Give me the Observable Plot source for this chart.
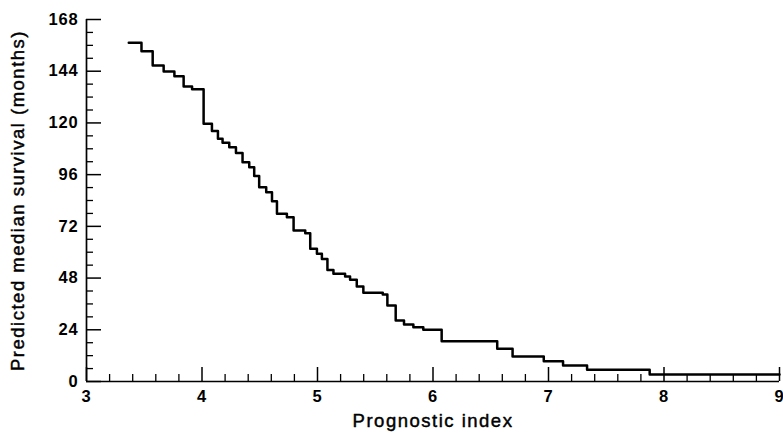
<!DOCTYPE html>
<html>
<head>
<meta charset="utf-8">
<script src="https://cdn.jsdelivr.net/npm/d3@7"></script>
<script src="https://cdn.jsdelivr.net/npm/@observablehq/plot@0.6"></script>
<style>
  html, body { margin: 0; padding: 0; background: #fff; }
  svg { display: block; }
</style>
</head>
<body>
<div id="chart"></div>
<script>
// Step function: prognostic index where each step begins, and predicted median survival (months)
const prognosticIndex = [3.366, 3.476, 3.573, 3.668, 3.761, 3.841, 3.914, 4.014, 4.086, 4.138,
  4.178, 4.236, 4.294, 4.351, 4.409, 4.452, 4.495, 4.556, 4.606, 4.649,
  4.735, 4.793, 4.894, 4.937, 4.995, 5.038, 5.086, 5.138, 5.239, 5.282,
  5.340, 5.397, 5.565, 5.605, 5.677, 5.749, 5.830, 5.916, 6.075, 6.556,
  6.689, 6.959, 7.126, 7.334, 7.876, 9.0];
const medianSurvival = [157.2, 153.3, 146.6, 143.9, 141.7, 136.9, 135.6, 119.6, 116.2, 112.6,
  110.8, 108.7, 106.1, 101.8, 99.4, 95.4, 90.2, 87.8, 83.7, 77.8,
  76.2, 70.1, 68.8, 61.6, 59.3, 56.9, 51.8, 50.0, 48.7, 47.2,
  44.1, 41.2, 40.4, 35.3, 28.3, 26.4, 25.2, 24.0, 18.7, 15.2,
  11.6, 9.4, 7.4, 5.4, 3.2, 3.2];

const xMajorTicks = [3, 4, 5, 6, 7, 8, 9];
const xMinorTicks = [3.2, 3.4, 3.6, 3.8, 4.2, 4.4, 4.6, 4.8, 5.2, 5.4, 5.6, 5.8,
  6.2, 6.4, 6.6, 6.8, 7.2, 7.4, 7.6, 7.8, 8.2, 8.4, 8.6, 8.8];
const yMajorTicks = [0, 24, 48, 72, 96, 120, 144, 168];
const yMinorTicks = [6, 12, 18, 30, 36, 42, 54, 60, 66, 78, 84, 90, 102, 108, 114,
  126, 132, 138, 150, 156, 162];

const xLabel = "Prognostic index";
const yLabel = "Predicted median survival (months)";

const data = prognosticIndex.map((x, i) => ({x, y: medianSurvival[i]}));

const W = 783, H = 435;
const mL = 86, mR = 4, mT = 19, mB = 54;
const plotW = W - mL - mR, plotH = H - mT - mB;

const chart = Plot.plot({
  width: W,
  height: H,
  marginLeft: mL,
  marginRight: mR,
  marginTop: mT,
  marginBottom: mB,
  style: {fontFamily: "'Liberation Sans', Arial, sans-serif", fontSize: "16px", color: "#000", background: "#fff", overflow: "visible"},
  x: {domain: [3, 9]},
  y: {domain: [0, 168]},
  marks: [
    Plot.axisX({ticks: xMajorTicks, tickSize: 0, tickPadding: 9, label: null, fontWeight: "bold", fontSize: 16.5, tickFormat: d => String(d)}),
    Plot.axisY({ticks: yMajorTicks, tickSize: 0, tickPadding: 8, label: null, fontWeight: "bold", fontSize: 16.5, tickFormat: d => String(d)}),
    Plot.tickX(xMajorTicks, {x: d => d, insetTop: plotH - 14, stroke: "#000", strokeWidth: 1.5}),
    Plot.tickX(xMinorTicks, {x: d => d, insetTop: plotH - 7, stroke: "#000", strokeWidth: 1.3}),
    Plot.tickY(yMajorTicks, {y: d => d, insetRight: plotW - 15, stroke: "#000", strokeWidth: 1.5}),
    Plot.tickY(yMinorTicks, {y: d => d, insetRight: plotW - 7, stroke: "#000", strokeWidth: 1.3}),
    Plot.ruleX([3], {stroke: "#000", strokeWidth: 1.7}),
    Plot.ruleY([0], {stroke: "#000", strokeWidth: 1.7}),
    Plot.line(data, {x: "x", y: "y", curve: "step-after", stroke: "#000", strokeWidth: 2.5}),
    Plot.text([xLabel], {frameAnchor: "bottom", text: d => d, dy: 45, fontSize: 18.5, lineAnchor: "bottom", textAnchor: "middle", fill: "#000", stroke: "#000", strokeWidth: 0.45}),
    Plot.text([yLabel], {frameAnchor: "left", text: d => d, dx: -68, rotate: -90, fontSize: 18.5, textAnchor: "middle", fill: "#000", stroke: "#000", strokeWidth: 0.45})
  ]
});
// wider letter spacing to match the reference typesetting
d3.select(chart).selectAll("g[aria-label='text'] text").attr("letter-spacing", "1.5px");
d3.select(chart).selectAll("g[aria-label='x-axis tick label'] text, g[aria-label='y-axis tick label'] text").attr("letter-spacing", "0.8px");
document.getElementById("chart").appendChild(chart);
</script>
</body>
</html>
